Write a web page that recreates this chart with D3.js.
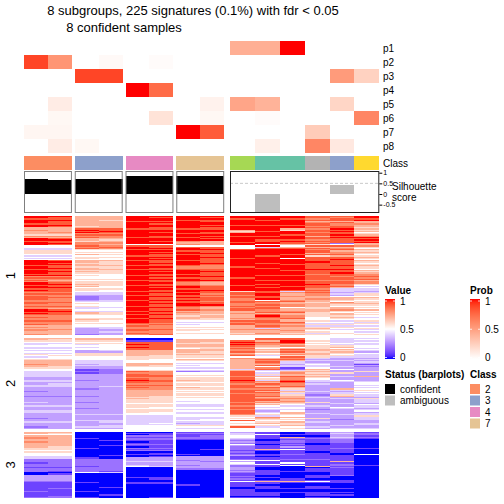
<!DOCTYPE html>
<html><head><meta charset="utf-8">
<script src="https://cdn.jsdelivr.net/npm/d3@7"></script>
<style>body{margin:0;background:#fff}svg{display:block}text{font-family:"Liberation Sans",Arial,Helvetica,sans-serif}</style>
</head><body><svg id="c" width="504" height="504"></svg>
<script>
// ---------------- data ----------------
const titleLine1 = "8 subgroups, 225 signatures (0.1%) with fdr < 0.05";
const titleLine2 = "8 confident samples";
const columns = ["c1","c2","c3","c4","c5","c6","c7","c8","c9","c10","c11","c12","c13","c14"];
const columnClass = ["2","2","3","3","4","4","7","7","5","1","1","8","3","6"];
const columnSlice = [0,0,1,1,2,2,3,3,4,4,4,4,4,4];
const columnStatus = ["confident","confident","confident","confident","confident","confident","confident","confident","ambiguous","ambiguous","ambiguous","ambiguous","ambiguous","ambiguous"];
const silhouette = [0.70,0.65,0.70,0.70,0.84,0.84,0.84,0.84,0,-0.83,0,0,0.42,0];
const probNames = ["p1","p2","p3","p4","p5","p6","p7","p8"];
const p1 = [0,0,0,0,0,0,0,0,0.42,0.42,1,0,0,0];
const p2 = [0.88,0.55,0,0.03,0,0.02,0,0,0,0,0,0,0,0];
const p3 = [0,0,0.88,0.88,0,0,0,0,0,0,0,0,0.52,0.24];
const p4 = [0,0,0,0,1,0.74,0,0,0,0,0,0,0,0];
const p5 = [0,0.1,0,0,0,0,0,0.07,0.47,0.40,0,0,0.22,0];
const p6 = [0,0.04,0,0,0,0.15,0,0.04,0,0.02,0,0,0,0.62];
const p7 = [0.05,0.05,0,0,0,0,1,0.8,0,0,0,0.27,0,0];
const p8 = [0,0.1,0.04,0,0,0,0,0,0,0.08,0,0.62,0.12,0];
const probRows = [p1,p2,p3,p4,p5,p6,p7,p8];
const rowSplitNames = ["1","2","3"];
const rowSplitSizes = [97,74,54];
const valueTicks = [0,0.5,1];
const probTicks = [0,0.5,1];
const legendClasses = ["2","3","4","7"];
const statusNames = ["confident","ambiguous"];
// value codes: a=0.0, b=0.1 ... f=0.5 ... k=1.0; one char per signature row, per split
const heatCodes = "abcdefghijk";
const heat_c1 = ["kkjkkkjkk hhihh hgih kkjkkk ff eegggfefef kkkkjkkjkkkjk ijiji kkjkkjk jijij jjiijjijii kkjk jijiijiij hihiihhi",
  "hhgfeefeef efegfefghh hihhgffeee eeddeeddee dddcdddcdd ddeddeddde eddddcdded ddcd",
  "hhfhiihhih hhhggfgfff eecccbcccb cccaaddddd cbbbbbbbcb bbbc"];
const heat_c2 = ["kjjkjjjkj hhhhi hgih jkjjkj ff eegggfefef jkjkjjkjjkjjk ijihi jkjjkjj jijii jiiijiijih jkjj jiiiijiii hhhihhhh",
  "hggfeffeef efefgffghh hhhggffeee eeddeedeee dddddddcdd dddddeddde eddddddded dddd",
  "hgfhhhhhhh hhgggfgfff eecccccccb ccbabddddd cbbbbbcbbb bbcc"];
const heat_c3 = ["hhhhhhhhgh jkjk ijij hhg iii jij gfgfhfggf hhghhghhgh gfgffgfggh ghfggf eedcccde fgfgeefehh gffghgfgff edddddc",
  "hhgfgefeff ddgggfffee ededdbbcbd ddddcddddd dcdddddcdd ddcddddcdd ddeddddedd dded",
  "aaaaabaaaa aaabaaaaaa abccccccbc cccfaaaaaa abaaaaaaba aaab"];
const heat_c4 = ["hhhghhhhhh jjkj ijii hgh iih iji gfgfgfgff hggghgghgg gffffgfggg gffgff eeddddee ffffeffegg gffggffgff eeddedd",
  "hhgfgfffff edgggfffee eeeddccccd ddddddddde dddddddddd dddddddddd ddeddddeed deed",
  "aaaaaaabaa abaaaaaaab aacccccccc ccbeaaaaaa aaaaabaaaa abaa"];
const heat_c5 = ["kkkkjkkkkkjkkkkkkjkkkkk f jkkjkkkkjk kkjkkkjkkj kkkkjkkkjk kkjkkkkjkk jkkkjkkkkj kkkjkkjkkj kkk jijiijjiji",
  "aabjjkjkjj hhhhhgggff hhhgffgjij jjijkjjiji jihhhhhhgh gggfgggfgg gffeeeeeee efff",
  "abacbccbab cbacbcaaba adddeddefa aaaaaaabaa abbaaaaaaa aaaa"];
const heat_c6 = ["kjkkjkjkkjjkkjkkjjkkjkk f jjkjkjkjjk jkjjkjjkjj kjkjjkjkjj kjjkjkjjkj jkjjkjjkjj kjjkjjkjjk jjj ijiiijiiij",
  "aabjjjjjjj hhhhgggfff hhggffgiii jjiijjiiji iihhhhhggg gggfggffgg fffeeeeeef efff",
  "abbcbccbbb cbbcbcabba bdddedddea aaaaaaabba abbaaaaaaa aaab"];
const heat_c7 = ["kkkjkkkkkkjkkkjkkjkk ihhi f jkkjkkjkkk kjkkkjiijk kkjkkjkkji ijkkjkkjkj jkjkjjkkji ij hihhghhg fefef gfggfgf",
  "fhhhghhgfh hhghggfhgf efefefecff gfgghgfggf hgfgfggfgf feffeeffef eeffeeefed egfe",
  "bcbbccbaaa aaaaaaaaba dddcdddcdd caaaaaaaaa aaabaaaaaa aaaa"];
const heat_c8 = ["kjkjjkkjkjjkkjjkjkjk hhhh f jjkjjkjjkj jjjkjiiijj kjjjkjjkih hijjjkjjij ijjjijjkih hi hhhghhgg fefff gfgffgf",
  "fhhgghhggh hgghggfhgf efffefedff gfggggfggf ggfgfggfgf ffffeeffef eeffeeffee egfe",
  "bcbcccbaaa aaaabaaaaa ddddcddddd caaaaaaaaa aaaaaaaaaa aaab"];
const heat_c9 = ["kkjkkkkjkkk hgh kkjkkkkjkk fff jkkkkkkjkk kkkkjkkkkk kkkjkkkkkj kkkk gjjij jiijjiijij j hhihhhih jijjh hhihhgh",
  "ffjkjkjiji ijhijfihhh hhhhhehjjj jijjkjjijj jijjjijjjj jjijjijjij jjigfgfjfg fgjf",
  "deeffedcdc fdcccbcbcd bbcfdfeccd dcdcbbcbcb fbbbbaabbb bbab"];
const heat_c10 = ["kkkjkkkjkk kkjkkkjkkj jkkfkejkkk kkjkkkkkjk kkjkkkkkjk kkjkkjkkjk kjjkkjjkfj iijijjiijh jkjiijjiij ieihhih",
  "jjhjiihgfh ghfgefhjij ihjfijefeg ehfgeihjih jijhjiijhi jhighfefed efgeihgfgh fgef",
  "bbfbbbaabb abbbhbaabb abbfbbfbba abbbbaabab hbbabbbaab bbab"];
const heat_c11 = ["kkjkkkkjkk hgkkkjkkkj kjjhfhjkkk kjkkfkkkkj kkkkjkkkjk kkjkkkkjkk jeihhihhij hhiifhhijh hiijhhjihi hhhihgh",
  "jjkkjhifhj ijhigjijhe edeebcehih hjiijkjiij hgehgeghhi hihgfeffef hhgfhfgfhg ghfg",
  "aabahcbccb cbdbfbbbcb bbcbbfbfaa aabaaaaabb hbaaaabaab aaaa"];
const heat_c12 = ["jjijhijjij ijjijjhjji jijgjhjijj hjgjjjjkjj jjjkjjjijj jjijjkjjji jijiihhihh ghhhgghhgg ggfffgfege ghgfgeg",
  "ffgfgfgggh hghhggeded efeefhghgh ghgfeededd dddeddcded ddgddeddcd dedddgdded dded",
  "bbbabcbbba abbbbbabbb bbcbbbbbha bbbaabbbab fbaabbbaab bbab"];
const heat_c13 = ["jijjhjiijj kjkjjkjkjj jjcfjhijhi ijhjjkjjjj kjjkjjkjji jjijjiijhe eededfhhgf ihgfhhigfh hghgfefege gfeffgf",
  "eeeefeghfh ghgfgedded dddedfddgd deddfedddd dhedeeghde dddeddfedd ddedddcddd dede",
  "deddedcccb bbbcbbbaab bbbbhbccbc bbbbbcaaab bbaaaabaab abaa"];
const heat_c14 = ["kkjkhhihhg hghfghikjk jkhhigfhgh gfghgfhgfg hggfhghiij ijhiigfefe edeggfhgfg ghgfgfhfgf gfeffgegfe fgefefg",
  "efefeeffef edfeeedede dbdcdddgdd dhdddeffef efgfefeedg eeedfeedef deegeeedde edde",
  "bccbcbaaaa aaabaaaafa aaaaaaabaa aaaaaaaaaa aaaaaaaaaa aaaa"];
const heatColumns = [heat_c1,heat_c2,heat_c3,heat_c4,heat_c5,heat_c6,heat_c7,heat_c8,heat_c9,heat_c10,heat_c11,heat_c12,heat_c13,heat_c14];

// ---------------- layout ----------------
const svg = d3.select("#c");
const set2 = ["#66C2A5","#FC8D62","#8DA0CB","#E78AC3","#A6D854","#FFD92F","#E5C494","#B3B3B3"];
const classColor = d3.scaleOrdinal().domain(["1","2","3","4","5","6","7","8"]).range(set2);
const valueColor = d3.scaleLinear().domain([0,0.5,1]).range(["#0000ff","#ffffff","#ff0000"]).interpolate(d3.interpolateLab);
const probColor = d3.scaleLinear().domain([0,1]).range(["#ffffff","#ff0000"]).interpolate(d3.interpolateLab);
const statusColor = d3.scaleOrdinal().domain(statusNames).range(["#000000","#BEBEBE"]);

const gap = 2.83;
const leftX0 = 24, leftX1 = 224.2, rightX0 = 230, rightX1 = 379.3;
const nLeftSlices = 4;
const sliceW = (leftX1 - leftX0 - gap*(nLeftSlices-1)) / nLeftSlices;
const sliceExtent = d3.range(nLeftSlices).map(s => [leftX0 + s*(sliceW+gap), leftX0 + s*(sliceW+gap) + sliceW]);
sliceExtent.push([rightX0, rightX1]);
const sliceScales = sliceExtent.map((ext, s) =>
  d3.scaleBand().domain(columns.filter((c,i)=>columnSlice[i]===s)).range(ext));
const xOf = i => sliceScales[columnSlice[i]](columns[i]);
const wOf = i => sliceScales[columnSlice[i]].bandwidth();

// heatmap rows
const heatTop = 216, rowH = 1.228;
const splitTops = [];
{ let t = heatTop; rowSplitSizes.forEach(n => { splitTops.push(t); t += n*rowH + gap; }); }
const rowScales = rowSplitSizes.map((n,k) => d3.scaleBand().domain(d3.range(n)).range([splitTops[k], splitTops[k]+n*rowH]));

// heatmap cells
const gHeat = svg.append("g").attr("shape-rendering","crispEdges");
heatColumns.forEach((col, i) => {
  const x = xOf(i), w = wOf(i);
  col.forEach((str, k) => {
    const codes = str.replace(/\s+/g, "");
    const ys = rowScales[k];
    for (let r = 0; r < rowSplitSizes[k]; r++) {
      const ch = codes[r] || "f";
      const v = heatCodes.indexOf(ch) / 10;
      gHeat.append("rect").attr("x", x).attr("y", ys(r))
        .attr("width", w).attr("height", ys.bandwidth())
        .attr("fill", valueColor(v));
    }
  });
});

// split labels
rowSplitNames.forEach((nm, k) => {
  const yc = splitTops[k] + rowSplitSizes[k]*rowH/2;
  svg.append("text").attr("transform", `translate(15,${yc}) rotate(-90)`)
    .attr("text-anchor","middle").attr("font-size",13).text(nm);
});

// probability annotation rows
const annTop = 41, annH = 14;
const annY = d3.scaleBand().domain(probNames).range([annTop, annTop + annH*probNames.length]);
const gAnn = svg.append("g").attr("shape-rendering","crispEdges");
probRows.forEach((row, j) => {
  row.forEach((v, i) => {
    gAnn.append("rect").attr("x", xOf(i)).attr("y", annY(probNames[j]))
      .attr("width", wOf(i)).attr("height", annY.bandwidth())
      .attr("fill", probColor(v));
  });
  svg.append("text").attr("x", 383).attr("y", annY(probNames[j]) + annH/2).attr("dy","0.36em")
    .attr("font-size",10).text(probNames[j]);
});
// class row
const classTop = 156, classH = 14;
columns.forEach((c, i) => {
  gAnn.append("rect").attr("x", xOf(i)).attr("y", classTop).attr("width", wOf(i)).attr("height", classH)
    .attr("fill", classColor(columnClass[i]));
});
svg.append("text").attr("x",383).attr("y", classTop + classH/2).attr("dy","0.36em").attr("font-size",10).text("Class");

// silhouette barplot
const silTop = 171, silBot = 213;
const silY = d3.scaleLinear().domain([-0.892, 1.08]).range([silBot, silTop]);
svg.append("line").attr("x1", rightX0).attr("x2", rightX1).attr("y1", silY(0.5)).attr("y2", silY(0.5))
  .attr("stroke","#BBBBBB").attr("stroke-dasharray","3,2").attr("stroke-width",0.8);
const gSil = svg.append("g").attr("shape-rendering","crispEdges");
columns.forEach((c, i) => {
  const v = silhouette[i];
  if (v === 0) return;
  gSil.append("rect").attr("x", xOf(i)).attr("width", wOf(i))
    .attr("y", silY(Math.max(0, v))).attr("height", Math.abs(silY(v) - silY(0)))
    .attr("fill", statusColor(columnStatus[i]));
});
sliceExtent.forEach((ext, s) => {
  svg.append("rect").attr("x", ext[0]+0.5).attr("y", silTop+0.5).attr("width", ext[1]-ext[0]-1).attr("height", silBot-silTop-1)
    .attr("fill","none").attr("stroke", s < nLeftSlices ? "#7F7F7F" : "#222222").attr("stroke-width",1);
});
const silAxis = svg.append("g").attr("transform", `translate(${rightX1},0)`)
  .call(d3.axisRight(silY).tickValues([-0.5,0,0.5,1]).tickSize(3).tickPadding(1).tickFormat(d => String(d)));
silAxis.select(".domain").remove();
silAxis.selectAll("text").attr("font-size",7).attr("font-family",'"Liberation Sans",Arial,sans-serif');
silAxis.selectAll("line").attr("stroke","#000");
svg.append("text").attr("x",392).attr("y",189.5).attr("font-size",10).text("Silhouette");
svg.append("text").attr("x",392).attr("y",201).attr("font-size",10).text("score");

// titles
svg.append("text").attr("x",193).attr("y",14.5).attr("text-anchor","middle").attr("font-size",13).text(titleLine1);
svg.append("text").attr("x",124).attr("y",31.5).attr("text-anchor","middle").attr("font-size",13).text(titleLine2);

// ---------------- legends ----------------
const defs = svg.append("defs");
function gradient(id, scale) {
  const g = defs.append("linearGradient").attr("id", id).attr("x1",0).attr("x2",0).attr("y1",0).attr("y2",1);
  d3.range(0, 1.0001, 0.05).forEach(t => g.append("stop").attr("offset", t).attr("stop-color", scale(1 - t)));
}
gradient("gv", valueColor);
gradient("gp", probColor);
function colorBar(x, title, gid, ticks) {
  svg.append("text").attr("x", x).attr("y", 293.5).attr("font-size",10).attr("font-weight","bold").text(title);
  svg.append("rect").attr("x", x).attr("y", 299).attr("width", 10).attr("height", 60).attr("fill", `url(#${gid})`);
  const ly = d3.scaleLinear().domain([0,1]).range([357.5, 301]);
  ticks.forEach(t => {
    svg.append("line").attr("x1", x).attr("x2", x+2).attr("y1", ly(t)).attr("y2", ly(t)).attr("stroke","#fff").attr("stroke-width",0.8);
    svg.append("line").attr("x1", x+8).attr("x2", x+10).attr("y1", ly(t)).attr("y2", ly(t)).attr("stroke","#fff").attr("stroke-width",0.8);
    svg.append("text").attr("x", x+15).attr("y", ly(t)).attr("dy","0.36em").attr("font-size",10).text(String(t));
  });
}
colorBar(385, "Value", "gv", valueTicks);
colorBar(470, "Prob", "gp", probTicks);

svg.append("text").attr("x",385).attr("y",378).attr("font-size",10).attr("font-weight","bold").text("Status (barplots)");
statusNames.forEach((s, k) => {
  svg.append("rect").attr("x",385).attr("y",384 + k*11.5).attr("width",10).attr("height",10).attr("fill", statusColor(s));
  svg.append("text").attr("x",400).attr("y",389 + k*11.5).attr("dy","0.36em").attr("font-size",10).text(s);
});
svg.append("text").attr("x",470).attr("y",378).attr("font-size",10).attr("font-weight","bold").text("Class");
legendClasses.forEach((c, k) => {
  svg.append("rect").attr("x",470).attr("y",384 + k*11.5).attr("width",10).attr("height",10).attr("fill", classColor(c));
  svg.append("text").attr("x",485).attr("y",389 + k*11.5).attr("dy","0.36em").attr("font-size",10).text(c);
});
</script></body></html>
